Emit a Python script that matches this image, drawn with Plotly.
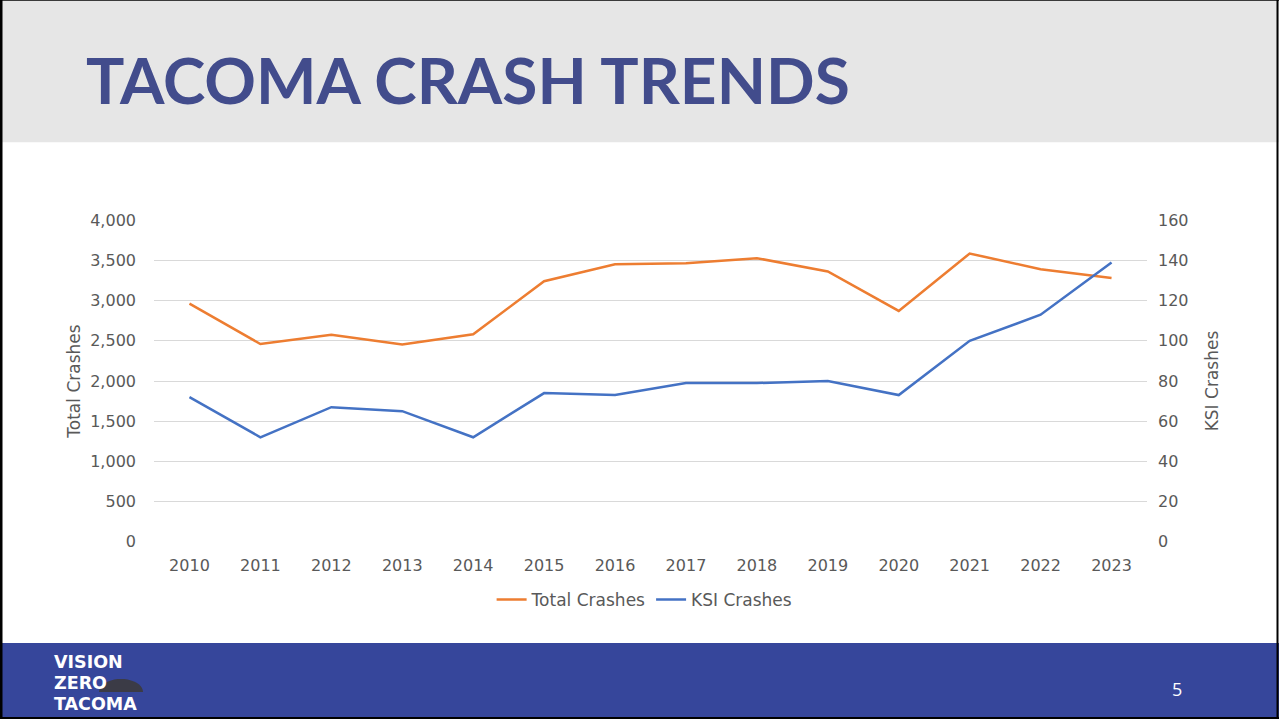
import math
import plotly.graph_objects as go

years = [str(y) for y in range(2010, 2024)]
total_crashes = [2964, 2460, 2577, 2456, 2581, 3242, 3454, 3466, 3529, 3363, 2872, 3587, 3392, 3283]
ksi_crashes = [72, 52, 67, 65, 52, 74, 73, 79, 79, 80, 73, 100, 113, 139]
left_ticks = [0, 500, 1000, 1500, 2000, 2500, 3000, 3500, 4000]
right_ticks = [0, 20, 40, 60, 80, 100, 120, 140, 160]
logo_words = ["VISION", "ZERO", "TACOMA"]

W = 1279
TOP, SPAN = 10, 699
def px(x):
    return x / W
def py(y):
    return 1 - (y - TOP) / SPAN

ORANGE = "#ED7D31"
BLUE = "#4472C4"
GREY_TXT = "#595959"
FONT = "DejaVu Sans"
BAND_GREY = "#E6E6E6"
BAND_BLUE = "#36469B"

fig = go.Figure()
fig.add_trace(go.Scatter(x=years, y=total_crashes, name="Total Crashes", mode="lines",
                         line=dict(color=ORANGE, width=2.5), yaxis="y"))
fig.add_trace(go.Scatter(x=years, y=ksi_crashes, name="KSI Crashes", mode="lines",
                         line=dict(color=BLUE, width=2.5), yaxis="y2"))

fig.update_layout(
    autosize=True,
    margin=dict(l=0, r=0, t=0, b=0),
    paper_bgcolor="white", plot_bgcolor="white",
    font=dict(family=FONT, color=GREY_TXT, size=16),
    xaxis=dict(domain=[px(154), px(1147)], type="category", range=[-0.5, len(years) - 0.5],
               showgrid=False, showline=False, zeroline=False, ticks="",
               tickfont=dict(size=16, color=GREY_TXT), ticklabelstandoff=12),
    yaxis=dict(domain=[py(542), py(221)], range=[0, 4000], tickvals=left_ticks,
               tickformat=",d", showgrid=True, gridcolor="#D9D9D9", gridwidth=1,
               zeroline=False, showline=False, ticks="", ticklabelstandoff=17,
               tickfont=dict(size=16, color=GREY_TXT),
               title=dict(text="Total Crashes", font=dict(size=17, color=GREY_TXT), standoff=5)),
    yaxis2=dict(domain=[py(542), py(221)], range=[0, 160], tickvals=right_ticks,
                overlaying="y", side="right", showgrid=False, zeroline=False, showline=False,
                ticks="", ticklabelstandoff=10, tickfont=dict(size=16, color=GREY_TXT),
                title=dict(text="KSI Crashes", font=dict(size=17, color=GREY_TXT), standoff=18)),
    legend=dict(orientation="h", x=0.504, xanchor="center", y=py(600), yanchor="middle",
                font=dict(size=17, color=GREY_TXT), bgcolor="rgba(0,0,0,0)",
                itemwidth=30, tracegroupgap=0),
    showlegend=True,
)

# small dome graphic of the logo
cx, cy, rx, ry = 121, 692, 22, 13
dome = "M {} {}".format(px(cx - rx), py(cy))
for k in range(0, 21):
    a = math.pi - math.pi * k / 20
    dome += " L {} {}".format(px(cx + rx * math.cos(a)), py(cy - ry * math.sin(a)))
dome += " Z"

shapes = [
    dict(type="rect", xref="paper", yref="paper", x0=0, x1=1, y0=py(143), y1=1.1,
         fillcolor=BAND_GREY, line=dict(width=0), layer="below"),
    dict(type="rect", xref="paper", yref="paper", x0=0, x1=1, y0=-0.1, y1=py(643),
         fillcolor=BAND_BLUE, line=dict(width=0), layer="below"),
    dict(type="path", xref="paper", yref="paper", path=dome,
         fillcolor="#3B3B46", line=dict(width=0), layer="above"),
    dict(type="line", xref="paper", yref="paper", x0=px(1), x1=px(1), y0=-0.1, y1=1.1,
         line=dict(width=3, color="black"), layer="above"),
    dict(type="line", xref="paper", yref="paper", x0=px(1277.5), x1=px(1277.5), y0=-0.1, y1=1.1,
         line=dict(width=2, color="black"), layer="above"),
    dict(type="line", xref="paper", yref="paper", x0=0, x1=1, y0=py(0.8), y1=py(0.8),
         line=dict(width=2, color="black"), layer="above"),
    dict(type="line", xref="paper", yref="paper", x0=0, x1=1, y0=py(718), y1=py(718),
         line=dict(width=2, color="black"), layer="above"),
]
fig.update_layout(shapes=shapes)

annotations = [
    dict(text="<b>TACOMA CRASH TRENDS</b>", x=px(84), y=py(80), xref="paper", yref="paper",
         xanchor="left", yanchor="middle", showarrow=False,
         font=dict(family="Lato", size=64, color="#424C8C")),
    dict(text="5", x=px(1177), y=py(689), xref="paper", yref="paper", xanchor="center",
         yanchor="middle", showarrow=False, font=dict(family="Open Sans", size=18, color="white")),
]
for i, word in enumerate(logo_words):
    annotations.append(dict(text="<b>" + word + "</b>", x=px(52), y=py(662 + i * 21),
                            xref="paper", yref="paper", xanchor="left", yanchor="middle",
                            showarrow=False,
                            font=dict(family="DejaVu Sans", size=17.5, color="white")))
fig.update_layout(annotations=annotations)

post = (
    "document.documentElement.style.height='100%';"
    "document.documentElement.style.margin='0';"
    "document.documentElement.style.background='linear-gradient(" + BAND_GREY + " 50%, " + BAND_BLUE + " 50%)';"
    "document.body.style.height='100%';"
    "document.body.style.margin='0';"
    "document.body.style.overflow='hidden';"
    "var gd=document.getElementById('{plot_id}');"
    "if(gd.parentElement){gd.parentElement.style.height='100%';}"
    "Plotly.Plots.resize(gd);"
)
fig.write_html("out.html", default_width="100%", default_height="100%",
               config={"displayModeBar": False, "responsive": True},
               post_script=post)
